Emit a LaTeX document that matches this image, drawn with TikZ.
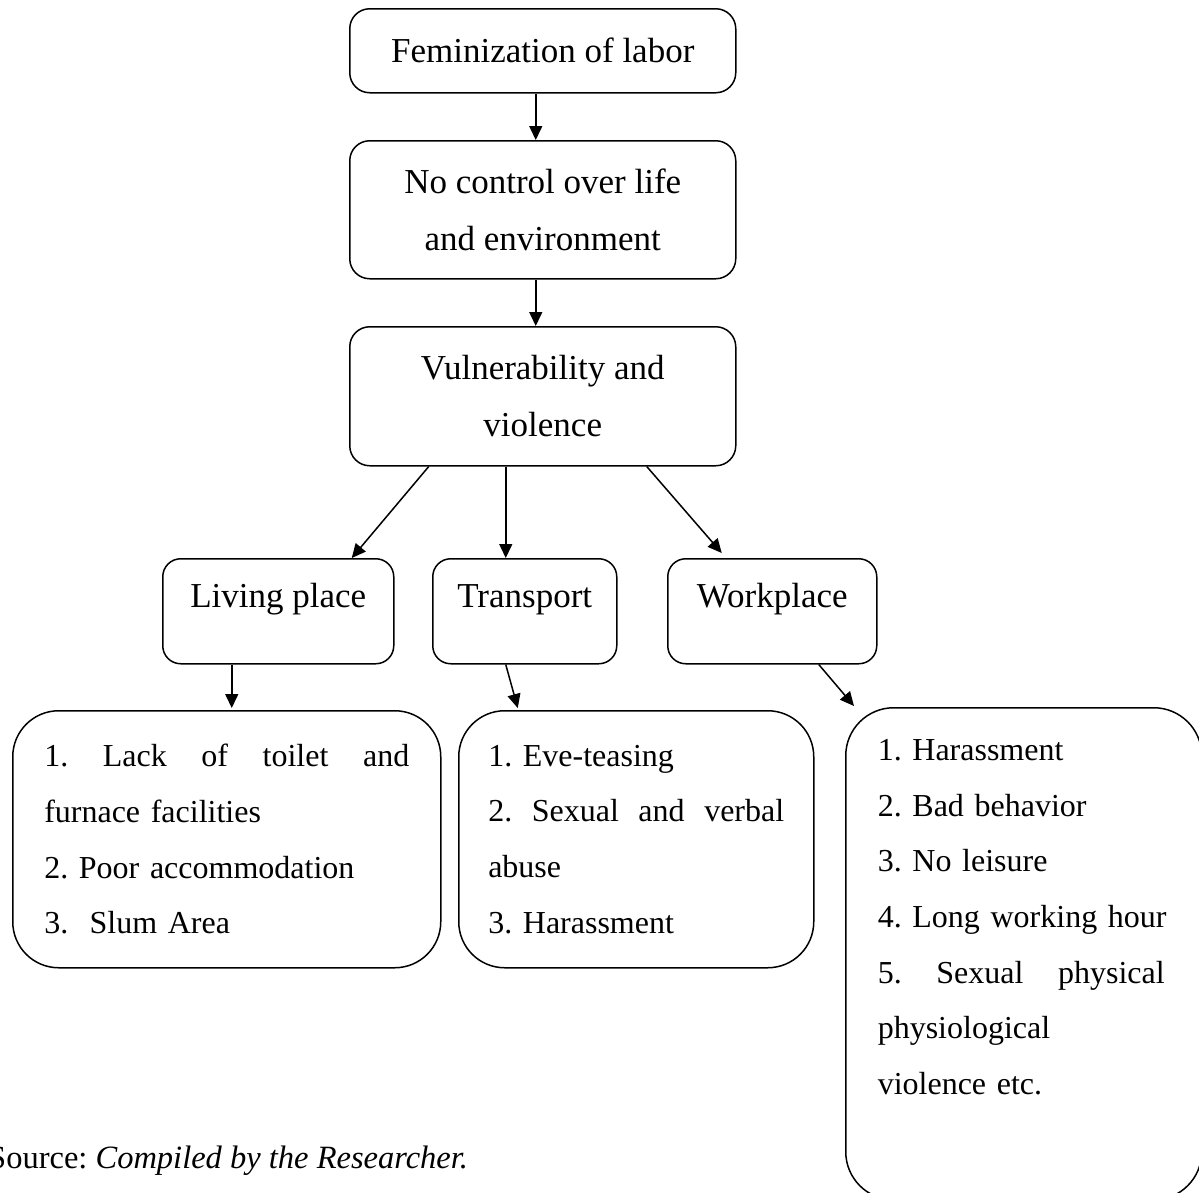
\documentclass[tikz,border=0pt]{standalone}
\usepackage{fontspec}
\setmainfont{Liberation Serif}
\frenchspacing
\usetikzlibrary{arrows.meta}

% a justified line of given width
\newcommand{\spreadline}[2]{\leavevmode\hbox to #1{#2}}

\begin{document}
\begin{tikzpicture}[x=1pt,y=-1pt,>={Triangle[length=14pt,width=13pt]},
    box/.style={draw,line width=1.5pt,inner sep=0pt,anchor=north west},
    head/.style={box,rounded corners=20pt,align=center,minimum width=386pt,
      font=\fontsize{35}{57}\selectfont},
    place/.style={box,rounded corners=18pt,text height=49pt,text depth=56pt,
      font=\fontsize{35}{57}\selectfont},
    list/.style={box,rounded corners=46pt,align=left,
      font=\fontsize{32}{55.6}\selectfont},
    link/.style={->,line width=1.5pt}]

    \useasboundingbox (0,0) rectangle (1199,1192);

    % Top chain
    \node[head,minimum height=84pt]  (fem)  at (349,8)   {Feminization of labor};
    \node[head,minimum height=138pt] (ctrl) at (349,140) {No control over life\\and environment};
    \node[head,minimum height=139pt] (vul)  at (349,326) {Vulnerability and\\violence};

    % Three places
    \node[place,minimum width=231pt] (liv) at (162,558) {Living place};
    \node[place,minimum width=184pt] (tra) at (432,558) {Transport};
    \node[place,minimum width=209pt] (wrk) at (667,558) {Workplace};

    % Lists under each place
    \node[list,minimum width=428pt,minimum height=257pt,text width=365pt] (livlist) at (12,710)
      {\spreadline{365pt}{1.\hfill Lack\hfill of\hfill toilet\hfill and}\\furnace facilities\\2. Poor accommodation\\3.\ \ Slum Area};
    \node[list,minimum width=355pt,minimum height=257pt,text width=296pt] (tralist) at (458,710)
      {1. Eve-teasing\\\spreadline{296pt}{2.\hfill Sexual\hfill and\hfill verbal}\\abuse\\3. Harassment};
    \node[list,rounded corners=48pt,minimum width=356pt,minimum height=492pt,text width=292pt] (wrklist) at (845,707)
      {1. Harassment\\2. Bad behavior\\3. No leisure\\4. Long working hour\\\spreadline{287pt}{5.\hfill Sexual\hfill physical}\\physiological\\violence etc.\\[18pt]\mbox{}};

    % Source line (runs off the left edge)
    \node[anchor=base west,inner sep=0pt,font=\fontsize{32.5}{40}\selectfont] (src) at (-12,1168)
      {Source: \textit{Compiled by the Researcher.}};

    % Arrows
    \draw[link] ([xshift=-7pt]fem.south) -- ([xshift=-7pt]ctrl.north);
    \draw[link] ([xshift=-7pt]ctrl.south) -- ([xshift=-7pt]vul.north);
    \draw[link] ([xshift=-114pt]vul.south) -- ([xshift=73.5pt]liv.north);
    \draw[link] ([xshift=-37pt]vul.south) -- ([xshift=-19pt]tra.north);
    \draw[link] ([xshift=104pt]vul.south) -- ([xshift=-50.5pt,yshift=5pt]wrk.north);
    \draw[link] ([xshift=-46.5pt]liv.south) -- ([xshift=5pt,yshift=2pt]livlist.north);
    \draw[link] ([xshift=-19pt]tra.south) -- ([xshift=-118.5pt,yshift=2pt]tralist.north);
    \draw[link] ([xshift=46.5pt]wrk.south) -- ([xshift=9pt,yshift=1pt]wrklist.north west);

\end{tikzpicture}
\end{document}
